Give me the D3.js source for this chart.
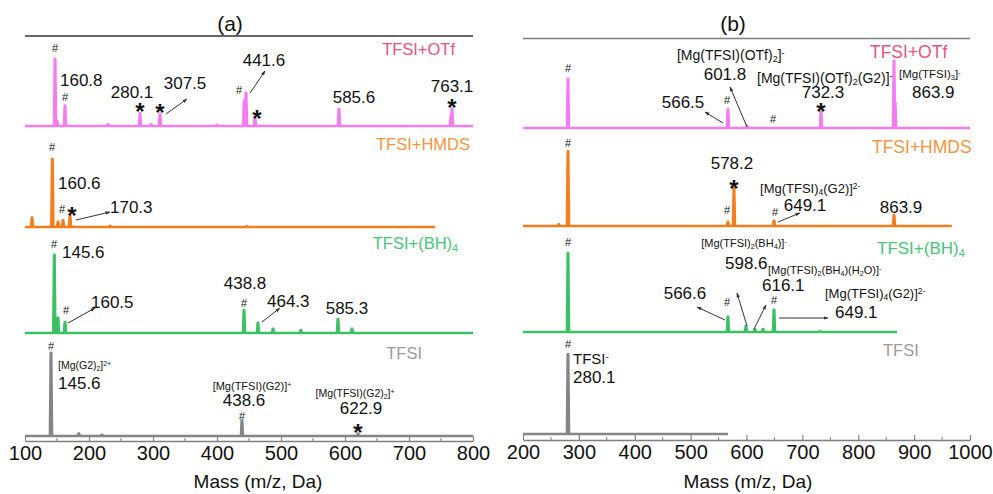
<!DOCTYPE html>
<html>
<head>
<meta charset="utf-8">
<script src="https://cdn.jsdelivr.net/npm/d3@7"></script>
<style>
  body { margin: 0; background: #fff; }
  svg { display: block; font-family: "Liberation Sans", Arial, sans-serif; }
</style>
</head>
<body>
<svg id="chart" width="993" height="494"></svg>
<script>
// series order, top to bottom
const seriesNames = ["TFSI+OTf", "TFSI+HMDS", "TFSI+(BH){_4}", "TFSI"];

// panel (a): positive mode peaks [mass, relative intensity]
const peaksA_OTf = [[146.9, 79], [150, 6], [162.5, 24], [229.7, 2], [279.7, 15], [296.9, 2], [310.9, 14], [400, 1.5], [442.5, 30], [445.3, 39], [459.4, 9], [590.6, 20], [765.5, 12], [767.2, 20]];
const peaksA_HMDS = [[111, 11], [142.7, 80], [151.6, 6], [159.4, 8], [170.3, 13], [232.8, 1.5], [446.9, 1]];
const peaksA_BH4 = [[145.8, 92], [151.6, 18], [162.5, 13], [442.2, 27], [464, 12], [487.5, 5], [531, 3.5], [589, 16.5], [610.9, 5]];
const peaksA_TFSI = [[140.6, 98], [184, 3], [220, 1.5], [439, 18], [620.3, 2.5]];
// mass range covered by each trace in (a)
const rangeA = [[100, 800], [100, 740.6], [100, 800], [100, 800]];

// panel (b): negative mode peaks [mass, relative intensity]
const peaksB_OTf = [[280.5, 58], [566.8, 22], [600.9, 2.5], [733.3, 19], [864, 79], [866, 30]];
const peaksB_HMDS = [[264, 2], [280.5, 88], [566.8, 5], [577.6, 44], [649.2, 6], [864, 13]];
const peaksB_BH4 = [[280.5, 93], [566.8, 18], [599, 7], [615, 3.5], [629.6, 3.5], [649.2, 26], [731, 1]];
const peaksB_TFSI = [[280.5, 94]];
const rangeB = [[200, 1000], [200, 967.6], [200, 869.3], [200, 567]];

const ticksA = [100, 200, 300, 400, 500, 600, 700, 800];
const ticksB = [200, 300, 400, 500, 600, 700, 800, 900, 1000];
const axisTitle = "Mass (m/z, Da)";

// peak annotations: mass position, centre y, text
const labelsA = [
  { m: 146.9, y: 48, t: "#" }, { m: 154.7, y: 80, t: "160.8", a: "start" }, { m: 162.5, y: 97, t: "#" },
  { m: 267.2, y: 92, t: "280.1" }, { m: 279.7, y: 106, t: "*" }, { m: 310.9, y: 107, t: "*" },
  { m: 350, y: 83, t: "307.5" }, { m: 473.4, y: 60, t: "441.6" }, { m: 434.4, y: 90, t: "#" },
  { m: 462.5, y: 113, t: "*" }, { m: 614, y: 97, t: "585.6" }, { m: 767.2, y: 86, t: "763.1" },
  { m: 767.2, y: 102, t: "*" },
  { m: 142.2, y: 147, t: "#" }, { m: 151.6, y: 183, t: "160.6", a: "start" }, { m: 157.8, y: 209, t: "#" },
  { m: 173.4, y: 210, t: "*" }, { m: 232.8, y: 207, t: "170.3", a: "start" },
  { m: 145.3, y: 244, t: "#" }, { m: 157.8, y: 252, t: "145.6", a: "start" }, { m: 164, y: 310, t: "#" },
  { m: 203.1, y: 302, t: "160.5", a: "start" }, { m: 443.8, y: 283, t: "438.8" }, { m: 442.2, y: 303, t: "#" },
  { m: 478.1, y: 301, t: "464.3", a: "start" }, { m: 603.1, y: 308, t: "585.3" },
  { m: 140.6, y: 346, t: "#" }, { m: 151.6, y: 365, t: "[Mg(G2){_2}]{^2+}", a: "start", fs: 10.5 },
  { m: 151.6, y: 383, t: "145.6", a: "start" }, { m: 454.7, y: 386, t: "[Mg(TFSI)(G2)]{^+}", fs: 11 },
  { m: 442.2, y: 400, t: "438.6" }, { m: 439, y: 416, t: "#" },
  { m: 615.6, y: 393, t: "[Mg(TFSI)(G2){_2}]{^+}", fs: 10.5 }, { m: 625, y: 408, t: "622.9" },
  { m: 620.3, y: 427, t: "*" }
];
const labelsB = [
  { m: 280.5, y: 68, t: "#" }, { m: 475.6, y: 55, t: "[Mg(TFSI)(OTf){_2}]{^-}", a: "start", fs: 14 },
  { m: 561.5, y: 74, t: "601.8" }, { m: 618.8, y: 78, t: "[Mg(TFSI)(OTf){_2}(G2)]{^-}", a: "start", fs: 14 },
  { m: 736.9, y: 92, t: "732.3" }, { m: 733.3, y: 106, t: "*" }, { m: 565.1, y: 100, t: "#" },
  { m: 486.4, y: 102, t: "566.5" }, { m: 647.4, y: 119, t: "#" },
  { m: 872.9, y: 74, t: "[Mg(TFSI){_3}]{^-}", a: "start", fs: 11.5 }, { m: 896.2, y: 92, t: "863.9", a: "start" },
  { m: 280.5, y: 143, t: "#" }, { m: 574, y: 163, t: "578.2" }, { m: 577.6, y: 183, t: "*" },
  { m: 565.1, y: 210, t: "#" }, { m: 624.2, y: 188, t: "[Mg(TFSI){_4}(G2)]{^2-}", a: "start", fs: 13 },
  { m: 704.7, y: 205, t: "649.1" }, { m: 651, y: 212, t: "#" }, { m: 876.5, y: 207, t: "863.9" },
  { m: 280.5, y: 242, t: "#" }, { m: 595.5, y: 243, t: "[Mg(TFSI){_2}(BH{_4})]{^-}", fs: 11 },
  { m: 561.5, y: 263, t: "598.6", a: "start" },
  { m: 638.5, y: 270, t: "[Mg(TFSI){_2}(BH{_4})(H{_2}O)]{^-}", a: "start", fs: 11 },
  { m: 627.7, y: 285, t: "616.1", a: "start" }, { m: 489.9, y: 293, t: "566.6" },
  { m: 565.1, y: 302, t: "#" }, { m: 649.2, y: 300, t: "#" },
  { m: 740.5, y: 293, t: "[Mg(TFSI){_4}(G2)]{^2-}", a: "start", fs: 13 },
  { m: 758.4, y: 312, t: "649.1", a: "start" },
  { m: 280.5, y: 344, t: "#" }, { m: 289.5, y: 359, t: "TFSI{^-}", a: "start", fs: 15 },
  { m: 289.5, y: 377, t: "280.1", a: "start" }
];
// leader arrows: from (m1, y1) to (m2, y2), head at the label end
const arrowsA = [[320.3, 114, 353.1, 99], [451.6, 93, 475, 71], [179.7, 220, 232.8, 212], [167.2, 323, 209.4, 308], [470.3, 322, 498.4, 308]];
const arrowsB = [[600.9, 127, 570.5, 87], [557.9, 123, 525.7, 112], [656.4, 222, 695.7, 213], [561.5, 320, 511.4, 307], [600.9, 326, 583, 293], [613.4, 329, 634.9, 305], [658.2, 318, 745.9, 318]];

const traceColors = ["#f47cf0", "#f57d1c", "#3dbf66", "#858585"];
const nameColors = ["#e5547e", "#f39440", "#47c477", "#9a9a9a"];

const svg = d3.select("#chart");
const defs = svg.append("defs");
defs.append("marker").attr("id", "head").attr("viewBox", "0 0 10 10")
  .attr("refX", 9).attr("refY", 5).attr("markerWidth", 5).attr("markerHeight", 5)
  .attr("orient", "auto")
  .append("path").attr("d", "M0,1.5 L10,5 L0,8.5 Z").attr("fill", "#333");

// write text with {_sub} and {^sup} pieces
function richText(sel, str, fs) {
  const parts = str.split(/(\{[_^][^}]*\})/).filter(s => s.length);
  parts.forEach(p => {
    const m = p.match(/^\{([_^])(.*)\}$/);
    if (m) {
      sel.append("tspan").text(m[2])
        .attr("font-size", fs * 0.65)
        .attr("baseline-shift", m[1] === "_" ? "-25%" : "45%");
    } else {
      sel.append("tspan").text(p);
    }
  });
}

function drawPanel(cfg) {
  const x = d3.scaleLinear().domain(cfg.domain).range(cfg.range);
  const y = d3.scaleLinear().domain([0, 100]).range([0, 85]);
  const g = svg.append("g");

  // title and top rule
  g.append("text").attr("x", cfg.titleX).attr("y", 23).attr("dy", "0.36em")
    .attr("text-anchor", "middle").attr("font-size", 21).attr("fill", "#111").text(cfg.title);
  g.append("line").attr("x1", cfg.range[0]).attr("x2", cfg.range[1])
    .attr("y1", cfg.ruleY).attr("y2", cfg.ruleY)
    .attr("stroke", cfg.ruleColor).attr("stroke-width", 1.6);

  // traces
  const line = d3.line().x(d => x(d[0]));
  cfg.peaks.forEach((peaks, i) => {
    const base = cfg.baselines[i];
    const hw = cfg.halfWidth;
    const pts = [[cfg.ranges[i][0], 0]];
    peaks.slice().sort((a, b) => a[0] - b[0]).forEach(([m, v]) => {
      pts.push([m - hw, 0], [m - hw * 0.25, v], [m + hw * 0.25, v], [m + hw, 0]);
    });
    pts.push([cfg.ranges[i][1], 0]);
    g.append("path").datum(pts)
      .attr("d", line.y(d => base - y(d[1])))
      .attr("fill", "none").attr("stroke", traceColors[i])
      .attr("stroke-width", 2.6).attr("stroke-linejoin", "round");

    const nl = cfg.names[i];
    const t = g.append("text").attr("x", x(nl.m)).attr("y", nl.y).attr("dy", "0.36em")
      .attr("text-anchor", nl.a).attr("font-size", nl.fs).attr("fill", nameColors[i]);
    richText(t, seriesNames[i], nl.fs);
  });

  // annotations
  cfg.labels.forEach(d => {
    const star = d.t === "*";
    const fs = star ? 24 : d.t === "#" ? 11 : (d.fs || 17);
    const t = g.append("text").attr("x", x(d.m)).attr("y", d.y)
      .attr("dy", star ? "0.58em" : "0.36em")
      .attr("text-anchor", d.a || "middle")
      .attr("font-size", fs).attr("font-weight", star ? "bold" : null)
      .attr("fill", "#111");
    richText(t, d.t, fs);
  });
  cfg.arrows.forEach(([m1, y1, m2, y2]) => {
    g.append("line").attr("x1", x(m1)).attr("y1", y1).attr("x2", x(m2)).attr("y2", y2)
      .attr("stroke", "#333").attr("stroke-width", 1).attr("marker-end", "url(#head)");
  });

  // x axis
  const axis = d3.axisBottom(x).tickValues(cfg.ticks).tickFormat(d3.format("d"))
    .tickSizeInner(-5).tickSizeOuter(0).tickPadding(5);
  const ax = g.append("g").attr("transform", `translate(0,${cfg.axisY})`).call(axis);
  ax.select(".domain").attr("stroke", "#808080").attr("stroke-width", 1.6);
  ax.selectAll(".tick line").attr("stroke", "#808080").attr("stroke-width", 1.2);
  ax.selectAll(".tick text").attr("font-size", 20).attr("fill", "#111")
    .attr("font-family", "Liberation Sans, Arial, sans-serif");
  const minor = d3.range(cfg.domain[0] + 50, cfg.domain[1], 100);
  g.selectAll(null).data(minor).join("line")
    .attr("x1", d => x(d)).attr("x2", d => x(d))
    .attr("y1", cfg.axisY).attr("y2", cfg.axisY - 3)
    .attr("stroke", "#808080").attr("stroke-width", 1);

  g.append("text").attr("x", cfg.titleAxisX).attr("y", 488)
    .attr("text-anchor", "middle").attr("font-size", 19).attr("fill", "#111").text(axisTitle);
}

drawPanel({
  title: "(a)", titleX: 230, ruleY: 36, ruleColor: "#333", titleAxisX: 258,
  domain: [100, 800], range: [25, 473], axisY: 441, halfWidth: 1.6,
  peaks: [peaksA_OTf, peaksA_HMDS, peaksA_BH4, peaksA_TFSI], ranges: rangeA,
  baselines: [126, 227, 333, 436],
  names: [
    { m: 771.9, y: 49, a: "end", fs: 16.5 }, { m: 795.3, y: 144, a: "end", fs: 16.5 },
    { m: 776.6, y: 243, a: "end", fs: 16.5 }, { m: 720.3, y: 353, a: "end", fs: 16.5 }
  ],
  ticks: ticksA, labels: labelsA, arrows: arrowsA
});

drawPanel({
  title: "(b)", titleX: 733, ruleY: 38.5, ruleColor: "#808080", titleAxisX: 748,
  domain: [200, 1000], range: [523, 970], axisY: 440, halfWidth: 1.8,
  peaks: [peaksB_OTf, peaksB_HMDS, peaksB_BH4, peaksB_TFSI], ranges: rangeB,
  baselines: [128, 226, 332, 434],
  names: [
    { m: 821, y: 52, a: "start", fs: 17.5 }, { m: 824.6, y: 147, a: "start", fs: 17.5 },
    { m: 833.6, y: 248, a: "start", fs: 17 }, { m: 844.3, y: 350, a: "start", fs: 16.5 }
  ],
  ticks: ticksB, labels: labelsB, arrows: arrowsB
});
</script>
</body>
</html>
